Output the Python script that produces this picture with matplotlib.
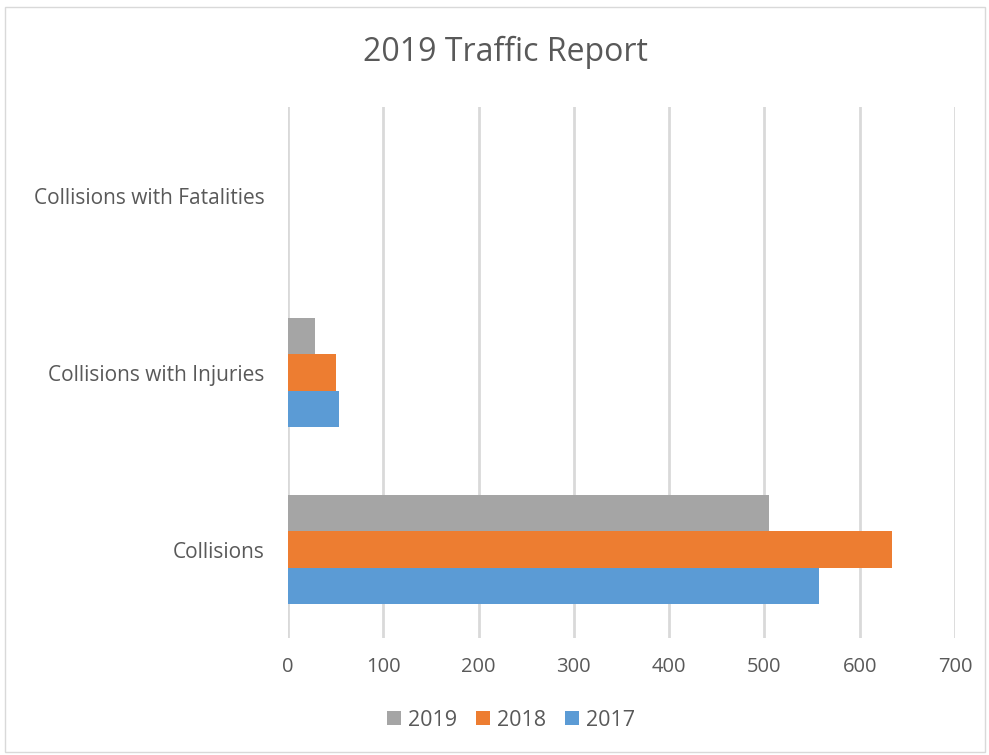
import matplotlib
matplotlib.use("Agg")
import matplotlib.pyplot as plt
import numpy as np
from matplotlib.patches import Rectangle

categories = ["Collisions", "Collisions with Injuries", "Collisions with Fatalities"]
series_names = ["2019", "2018", "2017"]
values_2019 = [505, 28, 0]
values_2018 = [634, 50, 0]
values_2017 = [557, 54, 0]
colors = ["#A5A5A5", "#ED7D31", "#5B9BD5"]
xticks = [0, 100, 200, 300, 400, 500, 600, 700]

plt.rcParams['font.family'] = ['Open Sans', 'DejaVu Sans']
txt = "#595959"

fig = plt.figure(figsize=(9.89, 7.55), dpi=100)
ax = fig.add_axes([288/989, 1-638/755, (955-288)/989, (638-107)/755])

y = np.arange(len(categories))
h = 0.207
series = [values_2019, values_2018, values_2017]
offsets = [h, 0, -h]
for name, vals, off, c in zip(series_names, series, offsets, colors):
    ax.barh(y + off, vals, height=h, color=c, label=name, zorder=3)

ax.set_xlim(0, 700)
ax.set_ylim(-0.5, 2.5)
ax.set_xticks(xticks)
ax.set_xticklabels([str(t) for t in xticks], fontsize=14.5, color=txt)
ax.set_yticks(y)
ax.set_yticklabels(categories, fontsize=15, color=txt)
ax.tick_params(axis='both', length=0)
ax.tick_params(axis='x', pad=14)
ax.tick_params(axis='y', pad=17)
ax.grid(axis='x', color='#D9D9D9', linewidth=2, zorder=0)
for s in ax.spines.values():
    s.set_visible(False)

fig.text(505/989, 1-52/755, "2019 Traffic Report", ha='center', va='center', fontsize=23, color=txt)

leg = fig.legend(loc='center', bbox_to_anchor=(511/989, 1-720/755), ncol=3, frameon=False,
                 fontsize=15.5, handlelength=0.65, handleheight=0.65, handletextpad=0.3,
                 columnspacing=0.9)
for t in leg.get_texts():
    t.set_color(txt)

fig.patches.append(Rectangle((5/989, 1-752/755), 980/989, (752-7)/755, transform=fig.transFigure,
                             fill=False, edgecolor='#D9D9D9', linewidth=1))

fig.savefig("out.png", dpi=100)
